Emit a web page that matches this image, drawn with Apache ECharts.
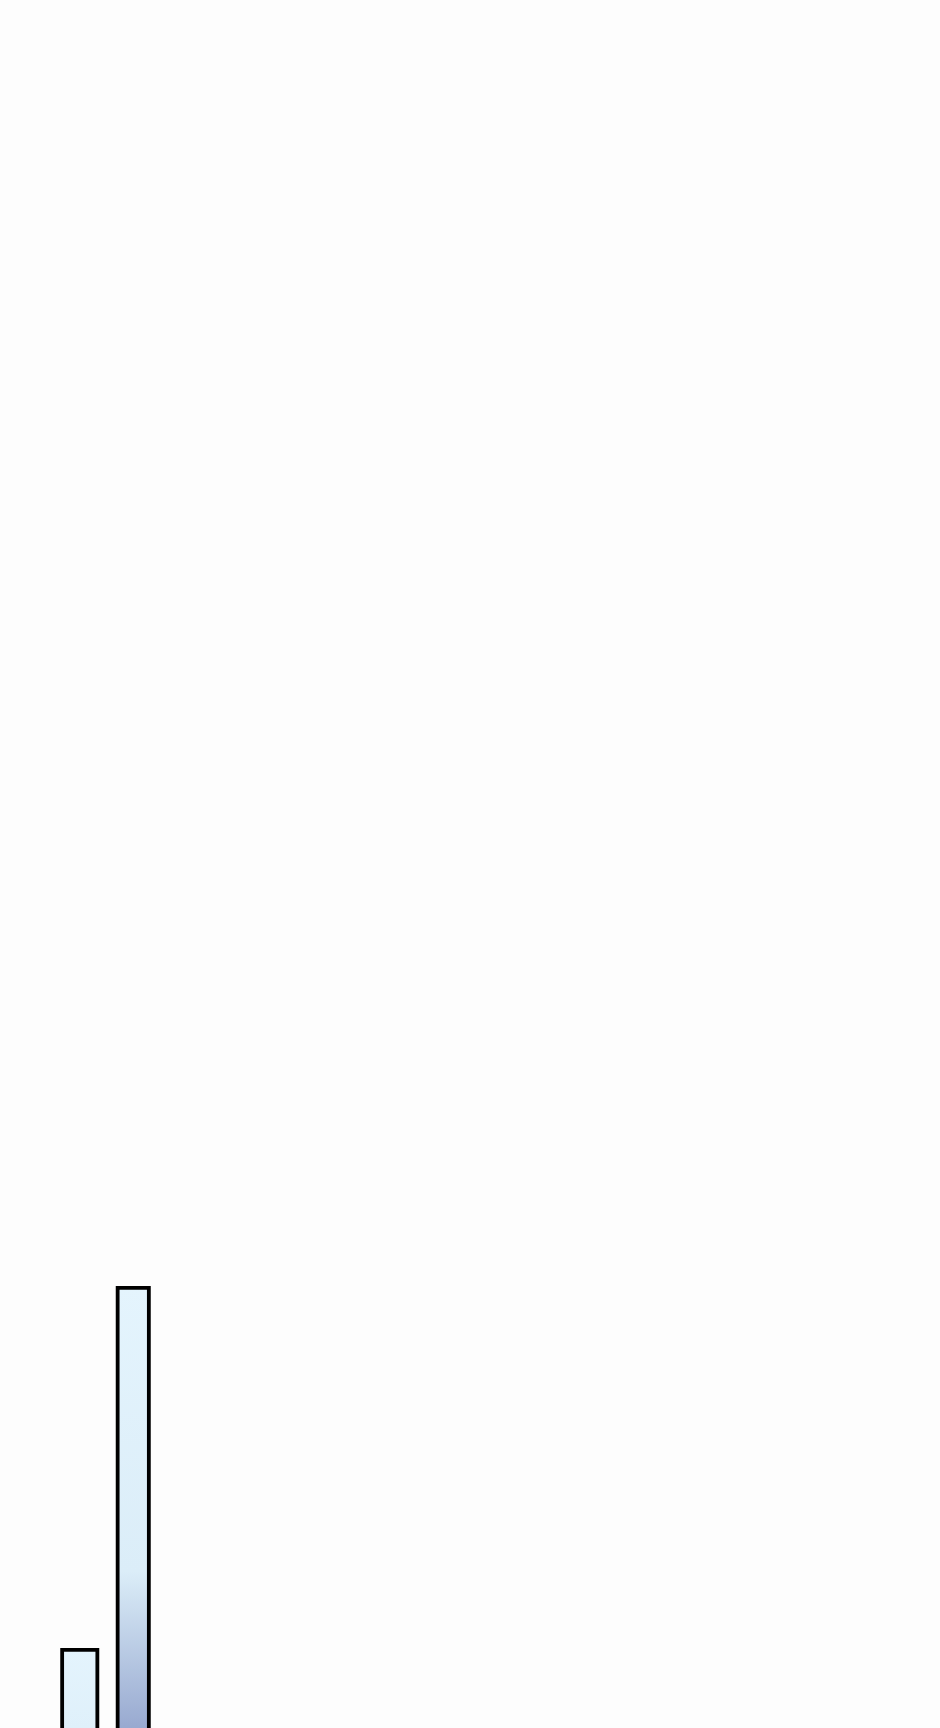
<!DOCTYPE html>
<html>
<head>
<meta charset="utf-8">
<script src="https://cdn.jsdelivr.net/npm/echarts@6/dist/echarts.min.js"></script>
<style>
html,body{margin:0;padding:0;background:#fdfdfd;overflow:hidden;width:940px;height:1728px;}
#chart{width:940px;height:2000px;}
</style>
</head>
<body>
<div id="chart"></div>
<script>
const categories = ['A', 'B'];
const valuesA = [176, null];
const valuesB = [null, 357];

const gradient = {
  type: 'linear', x: 0, y: 0, x2: 0, y2: 1,
  colorStops: [
    {offset: 0, color: '#e4f4fd'},
    {offset: 0.40, color: '#dbedf8'},
    {offset: 0.62, color: '#98a9d0'},
    {offset: 1, color: '#5a6ea6'}
  ]
};

const chart = echarts.init(document.getElementById('chart'), null, {renderer: 'canvas'});
chart.setOption({
  backgroundColor: '#fdfdfd',
  animation: false,
  grid: {left: 53, right: 780, top: 0, bottom: 0, containLabel: false},
  xAxis: [
    {type: 'category', data: categories, show: false},
    {type: 'category', data: categories, show: false}
  ],
  yAxis: {
    type: 'value',
    min: 0,
    max: 1000,
    show: false
  },
  series: [{
    type: 'bar',
    xAxisIndex: 0,
    data: valuesA,
    barWidth: 39,
    itemStyle: {borderColor: '#000000', borderWidth: 3.8, color: gradient}
  }, {
    type: 'bar',
    xAxisIndex: 1,
    data: valuesB,
    barWidth: 35,
    itemStyle: {borderColor: '#000000', borderWidth: 3.8, color: gradient}
  }]
});
</script>
</body>
</html>
